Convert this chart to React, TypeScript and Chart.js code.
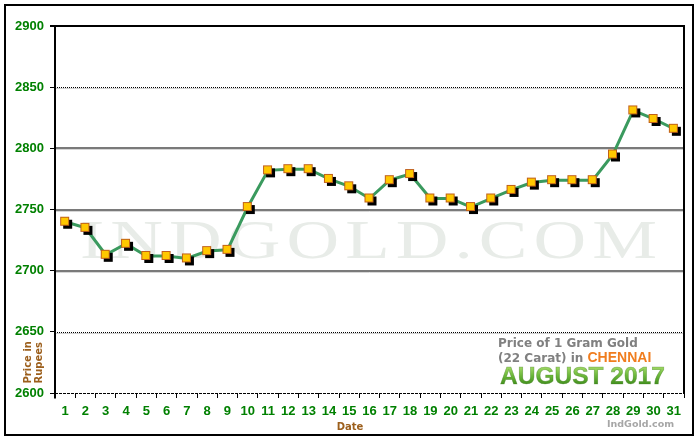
import React, { useEffect, useRef } from 'react';
import { Chart, registerables } from 'chart.js';

Chart.register(...registerables);

// gold price per day, August 2017 (Chennai, 22 carat, 1 gram)
const days = [
  '1', '2', '3', '4', '5', '6', '7', '8', '9', '10', '11', '12', '13', '14', '15', '16',
  '17', '18', '19', '20', '21', '22', '23', '24', '25', '26', '27', '28', '29', '30', '31',
];
const prices = [
  2740, 2735, 2713, 2722, 2712, 2712, 2710, 2716, 2717, 2752, 2782, 2783, 2783, 2775, 2769, 2759,
  2774, 2779, 2759, 2759, 2752, 2759, 2766, 2772, 2774, 2774, 2774, 2795, 2831, 2824, 2816,
];
const yTicks = [2600, 2650, 2700, 2750, 2800, 2850, 2900];
const dottedLevels = [2650, 2850];
const solidLevels = [2700, 2750, 2800];

const GREEN = '#008000';
const BROWN = '#9c5f1c';

// square marker with a black drop shadow
function makeMarker() {
  const c = document.createElement('canvas');
  c.width = 16;
  c.height = 16;
  const g = c.getContext('2d')!;
  g.fillStyle = '#000';
  g.fillRect(6, 6, 9, 9);
  g.fillStyle = '#ffc800';
  g.fillRect(3, 3, 9, 9);
  g.strokeStyle = '#c0601a';
  g.lineWidth = 1;
  g.strokeRect(3.5, 3.5, 8, 8);
  return c;
}

const decorations = {
  id: 'decorations',
  beforeDraw(chart: any) {
    const { ctx, width, height } = chart;
    ctx.save();
    ctx.fillStyle = '#fff';
    ctx.fillRect(0, 0, width, height);
    ctx.strokeStyle = '#000';
    ctx.lineWidth = 2;
    ctx.strokeRect(5, 5, 688, 430);
    ctx.restore();
  },
  beforeDatasetsDraw(chart: any) {
    const { ctx, chartArea: a, scales } = chart;
    const y = scales.y;
    ctx.save();

    // watermark, wide serif letters
    const wm = 'INDGOLD.COM';
    const stretch = 1.35;
    ctx.font = '54px "Liberation Serif", serif';
    ctx.fillStyle = '#e8ece8';
    ctx.textBaseline = 'alphabetic';
    ctx.textAlign = 'left';
    const natural = wm.split('').reduce((s, ch) => s + ctx.measureText(ch).width * stretch, 0);
    const gap = (577 - natural) / (wm.length - 1);
    let wx = 80;
    for (const ch of wm) {
      ctx.save();
      ctx.translate(wx, 258);
      ctx.scale(stretch, 1);
      ctx.fillText(ch, 0, 0);
      ctx.restore();
      wx += ctx.measureText(ch).width * stretch + gap;
    }

    // grid lines
    for (const v of solidLevels) {
      const py = Math.round(y.getPixelForValue(v));
      ctx.strokeStyle = '#7a7a7a';
      ctx.lineWidth = 2;
      ctx.beginPath();
      ctx.moveTo(a.left, py);
      ctx.lineTo(a.right, py);
      ctx.stroke();
      ctx.strokeStyle = '#d6d6d6';
      ctx.lineWidth = 1;
      ctx.beginPath();
      ctx.moveTo(a.left, py + 1.5);
      ctx.lineTo(a.right, py + 1.5);
      ctx.stroke();
    }
    for (const v of dottedLevels) {
      const py = Math.round(y.getPixelForValue(v)) + 0.5;
      ctx.strokeStyle = '#d0d0d0';
      ctx.lineWidth = 1;
      ctx.beginPath();
      ctx.moveTo(a.left, py + 1);
      ctx.lineTo(a.right, py + 1);
      ctx.stroke();
      ctx.strokeStyle = '#000';
      ctx.setLineDash([1, 1]);
      ctx.beginPath();
      ctx.moveTo(a.left, py);
      ctx.lineTo(a.right, py);
      ctx.stroke();
      ctx.setLineDash([]);
    }

    // bottom axis (dashed)
    const by = Math.round(y.getPixelForValue(yTicks[0])) + 0.5;
    ctx.strokeStyle = '#000';
    ctx.lineWidth = 1;
    ctx.setLineDash([3, 1]);
    ctx.beginPath();
    ctx.moveTo(a.left, by);
    ctx.lineTo(a.right, by);
    ctx.stroke();
    ctx.setLineDash([]);

    // frame: top, left, right
    const ty = Math.round(y.getPixelForValue(yTicks[yTicks.length - 1]));
    ctx.lineWidth = 2;
    ctx.beginPath();
    ctx.moveTo(a.left - 5, ty);
    ctx.lineTo(a.right + 1, ty);
    ctx.stroke();
    ctx.beginPath();
    ctx.moveTo(a.left, ty);
    ctx.lineTo(a.left, by + 5);
    ctx.stroke();
    ctx.beginPath();
    ctx.moveTo(a.right, ty);
    ctx.lineTo(a.right, by);
    ctx.stroke();
    ctx.restore();
  },
  afterDraw(chart: any) {
    const { ctx } = chart;
    ctx.save();
    ctx.textBaseline = 'alphabetic';

    // axis titles
    ctx.fillStyle = BROWN;
    ctx.font = 'bold 10px "DejaVu Sans", sans-serif';
    ctx.textAlign = 'center';
    ctx.fillText('Date', 350, 430);
    ctx.save();
    ctx.translate(31, 383.5);
    ctx.rotate(-Math.PI / 2);
    ctx.textAlign = 'left';
    ctx.fillText('Price in', 0, 0);
    ctx.fillText('Rupees', 0, 11);
    ctx.restore();

    // caption box
    ctx.textAlign = 'left';
    ctx.fillStyle = '#808080';
    ctx.font = 'bold 12px "DejaVu Sans", sans-serif';
    ctx.fillText('Price of 1 Gram Gold', 498, 347);
    const part = '(22 Carat) in ';
    ctx.fillText(part, 498, 362);
    const pw = ctx.measureText(part).width;
    ctx.fillStyle = '#f07d1e';
    ctx.font = 'bold 14px "Liberation Sans Narrow", "Liberation Sans", sans-serif';
    ctx.fillText('CHENNAI', 498 + pw, 362);

    const grad = ctx.createLinearGradient(0, 366, 0, 385);
    grad.addColorStop(0, '#a6dc6a');
    grad.addColorStop(0.5, '#6cb83a');
    grad.addColorStop(1, '#3f8c1c');
    ctx.font = 'bold 24.5px "Liberation Sans", sans-serif';
    ctx.fillStyle = grad;
    ctx.fillText('AUGUST 2017', 500, 384);
    ctx.strokeStyle = 'rgba(60,120,30,0.5)';
    ctx.lineWidth = 0.6;
    ctx.strokeText('AUGUST 2017', 500, 384);

    ctx.fillStyle = '#a6a6a6';
    ctx.font = 'bold 9.5px "DejaVu Sans", sans-serif';
    ctx.fillText('IndGold.com', 607, 427);
    ctx.restore();
  },
};

export default function App() {
  const canvasRef = useRef<HTMLCanvasElement>(null);

  useEffect(() => {
    const canvas = canvasRef.current;
    if (!canvas) return;
    const marker = makeMarker();
    const chart = new Chart(canvas, {
      type: 'line',
      data: {
        labels: days,
        datasets: [
          {
            data: prices,
            borderColor: '#3a9a5e',
            borderWidth: 3,
            tension: 0,
            pointStyle: marker,
            pointRadius: 6,
            pointHoverRadius: 6,
          },
        ],
      },
      options: {
        responsive: false,
        animation: false,
        events: [],
        layout: { padding: { top: 26, right: 16, left: 0, bottom: 0 } },
        plugins: { legend: { display: false }, tooltip: { enabled: false } },
        scales: {
          x: {
            type: 'category',
            offset: true,
            afterFit: (s: any) => {
              s.height = 47;
            },
            border: { display: false },
            grid: { drawOnChartArea: false, offset: true, tickLength: 5, color: '#000' },
            ticks: {
              color: GREEN,
              autoSkip: false,
              maxRotation: 0,
              padding: 6,
              font: { family: '"Liberation Sans Narrow", "Liberation Sans", sans-serif', weight: 'bold', size: 13 },
            },
          },
          y: {
            min: yTicks[0],
            max: yTicks[yTicks.length - 1],
            afterFit: (s: any) => {
              s.width = 55;
            },
            afterBuildTicks: (s: any) => {
              s.ticks = yTicks.map((v) => ({ value: v }));
            },
            border: { display: false },
            grid: { drawOnChartArea: false, tickLength: 5, color: '#000' },
            ticks: {
              color: GREEN,
              padding: 6,
              callback: (v: any) => String(v),
              font: { family: '"Liberation Sans", sans-serif', weight: 'bold', size: 13 },
            },
          },
        },
      },
      plugins: [decorations],
    });
    return () => chart.destroy();
  }, []);

  return (
    <div style={{ position: 'absolute', left: 0, top: 0, width: 700, height: 440, background: '#fff' }}>
      <canvas ref={canvasRef} width={700} height={440} style={{ display: 'block' }} />
    </div>
  );
}
